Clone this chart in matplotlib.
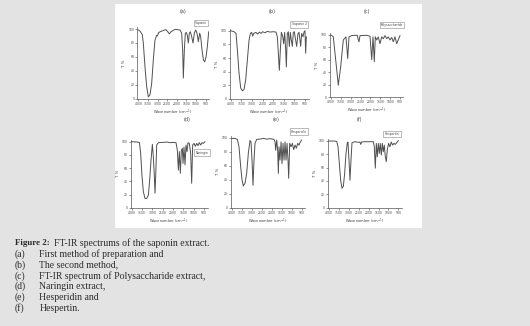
import matplotlib
matplotlib.use('Agg')
import matplotlib.pyplot as plt
from matplotlib.patches import Rectangle

# ---------------- data ----------------
wn_a = [4000, 3913, 3792, 3740, 3653, 3567, 3480, 3394, 3307, 3220, 3134, 3047, 3012, 2943, 2874, 2700,
        2562, 2441, 2389, 2302, 2094, 1834, 1748, 1696, 1661, 1609, 1557, 1505, 1454, 1402, 1350, 1297,
        1228, 1159, 1089, 1020, 951, 882, 812, 760, 691, 621, 552, 483, 414, 345]
t_a = [98.6, 97, 92, 80, 46, 18, 3, 6, 22, 56, 84, 91, 90, 95, 96, 98,
       99, 95, 93, 96, 99.5, 98.6, 94, 70, 30, 70, 94, 95, 91, 80, 94, 96,
       89, 80, 94, 98.6, 94, 82, 94, 89, 70, 56, 53, 60, 75, 96]

wn_b = [4000, 3843, 3749, 3686, 3608, 3529, 3451, 3372, 3294, 3215, 3137, 3074, 3011, 2964, 2917, 2807,
        2729, 2650, 2572, 2493, 2384, 2274, 2148, 1991, 1866, 1803, 1756, 1709, 1661, 1614, 1552, 1504,
        1457, 1410, 1379, 1332, 1285, 1238, 1191, 1144, 1097, 1049, 1002, 940, 892, 830, 782, 735, 704,
        657, 594, 547, 500, 469, 437]
t_b = [100, 98.5, 96, 72, 38, 16, 12, 14, 28, 57, 86, 96, 97.6, 92, 96, 97.6,
       95, 98, 96, 98.5, 97, 99, 98, 98.5, 98, 91, 67, 42, 72, 97.6, 92, 81,
       97.6, 72, 47, 96, 98.5, 77, 97.6, 86, 77, 97.6, 98.5, 86, 77, 96, 97.6, 86, 77,
       96, 91, 98, 100, 67, 91]

wn_c = [4000, 3883, 3762, 3630, 3508, 3376, 3239, 3153, 3087, 2950, 2783, 2666, 2615, 2580, 2529, 2189,
        2022, 1935, 1870, 1804, 1753, 1682, 1601, 1514, 1428, 1347, 1261, 1175, 1094, 1007, 921, 840,
        754, 667, 500]
t_c = [100, 97, 60, 19, 49, 92, 97, 62, 97, 99, 99.5, 99.5, 92, 89, 99, 99.5,
       98, 60, 97, 57, 97, 92, 97, 86, 97, 94, 99, 94, 97, 92, 96, 89,
       97, 86, 99]

wn_d = [4000, 3758, 3629, 3565, 3500, 3435, 3355, 3274, 3194, 3129, 3065, 3000, 2952, 2903, 2871, 2839,
        2790, 2710, 2468, 2306, 2145, 1984, 1855, 1790, 1742, 1694, 1645, 1597, 1548, 1516, 1468, 1419,
        1371, 1323, 1274, 1210, 1145, 1097, 1048, 984, 919, 855, 790, 726, 661, 597, 532, 452]
t_d = [100, 99.5, 99, 82, 47, 24, 14, 14, 19, 42, 72, 96, 77, 47, 22, 47,
       95, 98.5, 99, 99.5, 98.5, 99, 98.5, 87, 57, 85, 52, 87, 90, 67, 92, 65,
       95, 85, 98.5, 97.5, 82, 37, 95, 97.5, 93, 97.5, 94, 98.5, 95, 98.5, 97.5, 100]

wn_e = [4000, 3849, 3732, 3648, 3565, 3498, 3431, 3347, 3263, 3179, 3096, 3045, 2995, 2945, 2895, 2844,
        2761, 2593, 2426, 2258, 2091, 1890, 1840, 1806, 1756, 1706, 1672, 1639, 1589, 1538, 1488, 1438,
        1387, 1337, 1287, 1237, 1187, 1153, 1103, 1036, 969, 902, 835, 768, 701, 634, 567, 500]
t_e = [99, 99, 97.6, 87, 59, 40, 31, 35, 49, 78, 96, 94, 68, 32, 68, 92,
       97.6, 98, 99, 98, 98.6, 97.6, 94, 82, 96.7, 82, 49, 87, 68, 94, 63, 92,
       68, 94, 68, 92, 68, 42, 92, 87, 92, 83, 89.5, 85, 92, 89.5, 94, 96.7]

wn_f = [4000, 3781, 3612, 3546, 3478, 3411, 3344, 3276, 3209, 3142, 3074, 3041, 2990, 2940, 2889, 2839,
        2688, 2519, 2435, 2401, 2351, 2183, 1930, 1762, 1712, 1661, 1611, 1560, 1510, 1459, 1409, 1358,
        1308, 1257, 1207, 1156, 1106, 1055, 988, 921, 854, 787, 719, 652, 585, 500]
t_f = [99.5, 99.5, 99, 91, 66, 41, 29, 32, 51, 81, 97, 98, 71, 41, 71, 97,
       98.5, 97.5, 98, 94.5, 98, 98.5, 98.5, 98.5, 91, 59, 96, 76, 96, 81, 96, 78.6,
       96, 83.6, 93.5, 76, 68.7, 87, 96, 91, 98, 93.5, 96, 94.5, 97, 100]

panel_tags = ['(a)', '(b)', '(c)', '(d)', '(e)', '(f)']
legend_names = ['Saponin', 'Saponin 2', 'Polysaccharide', 'Naringin', 'Hesperidin', 'Hespertin']
x_ticks = [4000, 3500, 3000, 2500, 2000, 1500, 1000, 500]
y_ticks = [0, 20, 40, 60, 80, 100]
x_label = 'Wavenumber (cm$^{-1}$)'
y_label = 'T %'

caption_head = 'Figure 2:'
caption_title = 'FT-IR spectrums of the saponin extract.'
caption_tags = ['(a)', '(b)', '(c)', '(d)', '(e)', '(f)']
caption_items = ['First method of preparation and',
                 'The second method,',
                 'FT-IR spectrum of Polysaccharide extract,',
                 'Naringin extract,',
                 'Hesperidin and',
                 'Hespertin.']

# ---------------- layout ----------------
W, H = 530, 326
fig = plt.figure(figsize=(W / 100, H / 100), dpi=100)
fig.patch.set_facecolor('#e3e3e3')
fig.patches.append(Rectangle((115 / W, 1 - 228 / H), (422 - 115) / W, (228 - 4) / H,
                             transform=fig.transFigure, facecolor='white',
                             edgecolor='none', zorder=-5))

XL = (4050, 330)
YL = (0, 103)
LINE = '#505050'


def make_ax(px4000, px500, py100, py0):
    sx = (px500 - px4000) / 3500.0
    left = px4000 - (XL[0] - 4000) * sx
    right = px500 + (500 - XL[1]) * sx
    sy = (py0 - py100) / 100.0
    top = py100 - (YL[1] - 100) * sy
    bottom = py0 + (0 - YL[0]) * sy
    ax = fig.add_axes([left / W, 1 - bottom / H, (right - left) / W, (bottom - top) / H])
    ax.set_zorder(2)
    ax.set_xlim(*XL)
    ax.set_ylim(*YL)
    ax.patch.set_alpha(0)
    for s in ('top', 'right'):
        ax.spines[s].set_visible(False)
    for s in ('left', 'bottom'):
        ax.spines[s].set_linewidth(0.5)
        ax.spines[s].set_color('#555555')
    ax.set_xticks(x_ticks)
    ax.set_yticks(y_ticks)
    ax.tick_params(labelsize=2.2, length=1.2, width=0.4, pad=1, colors='#444444')
    ax.set_xlabel(x_label, fontsize=2.6, labelpad=1.5, color='#444444')
    ax.set_ylabel(y_label, fontsize=2.8, labelpad=1.5, color='#444444')
    return ax


geom = [(138.3, 205.7, 29.0, 99.0),
        (230.7, 305.0, 30.7, 99.0),
        (331.0, 400.0, 35.0, 97.0),
        (131.7, 204.0, 141.7, 207.7),
        (232.0, 301.7, 137.7, 207.7),
        (329.0, 398.3, 140.7, 207.7)]
series = [(wn_a, t_a), (wn_b, t_b), (wn_c, t_c), (wn_d, t_d), (wn_e, t_e), (wn_f, t_f)]
tag_pos = [(183, 11), (272, 11), (367, 11), (187, 120), (276, 120), (359, 120)]
leg_pos = [(201, 23), (299, 24.5), (392, 25), (202, 152.5), (299, 131.5), (392, 134)]

for g, (xs, ys), tp, lp, tag, name in zip(geom, series, tag_pos, leg_pos, panel_tags, legend_names):
    ax = make_ax(*g)
    ax.plot(xs, ys, color=LINE, lw=0.7)
    fig.text(tp[0] / W, 1 - tp[1] / H, tag, fontsize=3.6, ha='center', va='center', color='#444444')
    fig.text(lp[0] / W, 1 - lp[1] / H, name, fontsize=2.2, ha='center', va='center', color='#444444',
             bbox=dict(boxstyle='square,pad=0.4', fc='white', ec='#888888', lw=0.4), zorder=5)

# ---------------- caption ----------------
SERIF = 'Liberation Serif'
CFS = 7.0
TXT = '#2b2b2b'
fig.text(15 / W, 1 - 243.3 / H, caption_head, family=SERIF, fontsize=6.4, weight='bold',
         va='center', color=TXT)
fig.text(54 / W, 1 - 243.3 / H, caption_title, family=SERIF, fontsize=CFS, va='center', color=TXT)
for i, (tg, it) in enumerate(zip(caption_tags, caption_items)):
    y = 254.0 + i * 10.85
    fig.text(15 / W, 1 - y / H, tg, family=SERIF, fontsize=CFS, va='center', color=TXT)
    fig.text(39.3 / W, 1 - y / H, it, family=SERIF, fontsize=CFS, va='center', color=TXT)

fig.savefig('out.png', dpi=100, facecolor=fig.get_facecolor())
